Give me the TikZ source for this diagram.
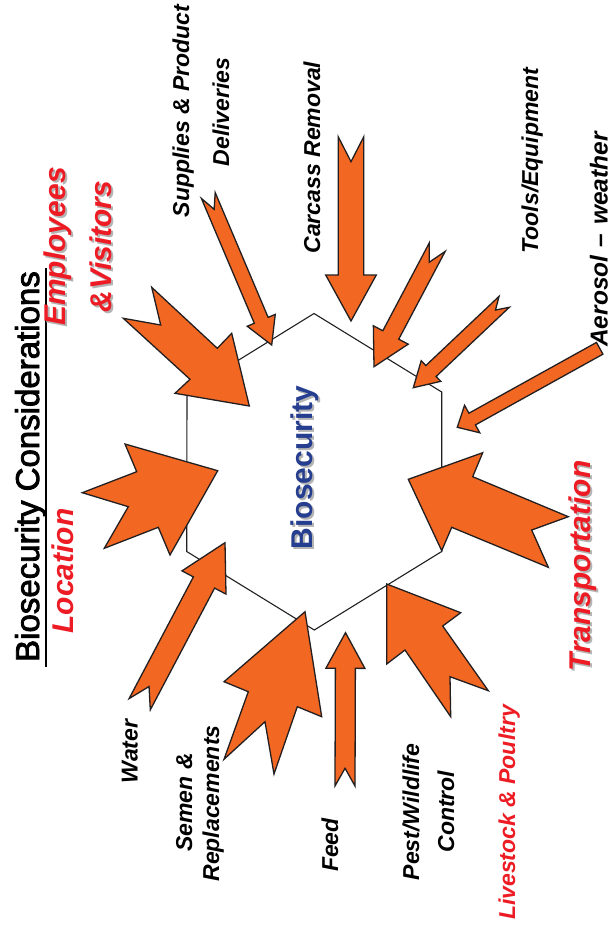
\documentclass[tikz,border=0pt]{standalone}
\usepackage{fontspec}
\setmainfont{Liberation Sans}
\newfontfamily\titlefont[FakeBold=2.5]{Liberation Sans}
\usetikzlibrary{calc}
\definecolor{arrorange}{RGB}{242,103,34}
\definecolor{arrline}{RGB}{35,31,32}
\definecolor{labred}{RGB}{237,28,36}
\definecolor{labblue}{RGB}{38,62,143}
\definecolor{shadowgray}{RGB}{180,180,180}
% thin symmetric block arrow: #1 tail centre, #2 tip, #3 shaft half width,
% #4 head half width, #5 head length, #6 tail notch depth
\newcommand\blockarrow[6]{%
  \coordinate (P) at ($(#2)!#5!(#1)$);
  \filldraw[blockarr] ($(#1)!#3!90:(#2)$) -- ($(#1)!#6!(#2)$) -- ($(#1)!#3!-90:(#2)$)
    -- ($(P)!#3!-90:(#2)$) -- ($(P)!#4!-90:(#2)$) -- (#2)
    -- ($(P)!#4!90:(#2)$) -- ($(P)!#3!90:(#2)$) -- cycle;
}
\begin{document}
\begin{tikzpicture}[x=1pt,y=-1pt,
  blockarr/.style={fill=arrorange,draw=arrline,line width=1.3pt,line join=miter},
  hexline/.style={draw=arrline,line width=1.1pt},
  lab/.style={rotate=90,anchor=base,inner sep=0pt,
    font=\fontsize{23}{23}\selectfont\bfseries\itshape,text=black},
  redlab/.style={lab,text=labred},
  biglab/.style={rotate=90,anchor=base,inner sep=0pt,
    font=\fontsize{30}{30}\selectfont\bfseries\itshape,text=labred},
  shadowlab/.style={text=shadowgray},
  titlelab/.style={rotate=90,anchor=base,inner sep=0pt,
    font=\fontsize{33}{33}\selectfont\titlefont},
  centrelab/.style={rotate=90,anchor=base,inner sep=0pt,
    font=\fontsize{30}{30}\selectfont\bfseries,text=labblue}]
\useasboundingbox (0,0) rectangle (611,937);

% hexagon
\coordinate (h1) at (314,313.5);
\coordinate (h2) at (441.7,392);
\coordinate (h3) at (441.7,551.5);
\coordinate (h4) at (314.3,630);
\coordinate (h5) at (186.7,551.5);
\coordinate (h6) at (187,392);
\draw[hexline] (h1) -- (h2) -- (h3) -- (h4) -- (h5) -- (h6) -- cycle;

% big chevron arrows
\filldraw[blockarr] (151.7,287.3) -- (217.3,348.3) -- (231.7,333.3) -- (249.3,406)
  -- (175,393.3) -- (190,379.3) -- (123.3,318.3) -- (160.7,325) -- cycle; % employees
\filldraw[blockarr] (217.7,470.7) -- (125,444) -- (136.7,471.7) -- (82.3,492.7)
  -- (128.3,506.7) -- (104.3,548.3) -- (158.3,527.3) -- (170,555) -- cycle; % location
\filldraw[blockarr] (408.3,479.3) -- (482.7,452.7) -- (472.7,476.7) -- (568.3,516.7)
  -- (531.7,530) -- (548.3,567.3) -- (451.7,527.3) -- (441.7,550.7) -- cycle; % transportation
\filldraw[blockarr] (386.7,584) -- (460.7,612.7) -- (442.7,626) -- (488.3,690.7)
  -- (450,676.7) -- (450.7,716.7) -- (405,650) -- (386.7,664) -- cycle; % pest
\filldraw[blockarr] (305,611.7) -- (321.7,716.7) -- (297.3,706.7) -- (274,774)
  -- (265,721.7) -- (224,759.3) -- (248.3,691.7) -- (224,681.7) -- cycle; % semen

% thin arrows
\coordinate (sup-t) at (208.3,195.5);   \coordinate (sup-h) at (271.7,345);
\coordinate (car-t) at (351,136.7);     \coordinate (car-h) at (351,321);
\coordinate (too1-t) at (437.2,247.2);  \coordinate (too1-h) at (374,366.7);
\coordinate (too2-t) at (504.2,301.8);  \coordinate (too2-h) at (413.3,387.7);
\coordinate (aer-t) at (599.7,348.3);   \coordinate (aer-h) at (457.3,427.3);
\coordinate (fee-t) at (345,786);       \coordinate (fee-h) at (345.5,632.7);
\coordinate (wat-t) at (139.7,704.2);   \coordinate (wat-h) at (225,542.7);
\blockarrow{sup-t}{sup-h}{7.5pt}{15.2pt}{26.8pt}{15pt}
\blockarrow{car-t}{car-h}{12.8pt}{25.3pt}{46pt}{25pt}
\blockarrow{too1-t}{too1-h}{9pt}{19.7pt}{35.9pt}{17pt}
\blockarrow{too2-t}{too2-h}{7.5pt}{14.2pt}{24.3pt}{12pt}
\blockarrow{aer-t}{aer-h}{6.7pt}{15.7pt}{17pt}{0pt}
\blockarrow{fee-t}{fee-h}{10pt}{19.5pt}{35.6pt}{17.7pt}
\blockarrow{wat-t}{wat-h}{12pt}{24.9pt}{45pt}{20pt}

% title
\node[titlelab] (title) at (39,466.5) {Biosecurity Considerations};
\draw[line width=2pt] (46,268) -- (46,667);

% centre
\node[centrelab,shadowlab] (bio-sh) at (314.5,469.5) {Biosecurity};
\node[centrelab] (bio) at (312,467.5) {Biosecurity};

% big red labels
\node[biglab] (loc) at (73,571) {Location};
\node[biglab,shadowlab] (emp-sh) at (67,248.5) {Employees};
\node[biglab] (emp) at (65,246.5) {Employees};
\node[biglab,shadowlab] (vis-sh) at (113,248.5) {\&\kern1pt Visitors};
\node[biglab] (vis) at (111,246.5) {\&\kern1pt Visitors};
\node[biglab,shadowlab] (tra-sh) at (592,568) {Transportation};
\node[biglab] (tra) at (590,566) {Transportation};

% small labels
\node[lab] (sup1) at (189,111) {Supplies \& Product};
\node[lab] (sup2) at (229,112) {Deliveries};
\node[lab] (car) at (320,157.5) {Carcass Removal};
\node[lab] (too) at (538,160.5) {Tools/Equipment};
\node[lab,font=\fontsize{24.5}{24.5}\selectfont\bfseries\itshape] (aer) at (607.5,239.5)
  {Aerosol\hspace{0.35em}–\hspace{0.35em}weather};
\node[lab] (wat) at (137.5,751.5) {Water};
\node[lab] (sem1) at (192,802.5) {Semen \&};
\node[lab] (sem2) at (219,803.5) {Replacements};
\node[lab] (fee) at (338,845) {Feed};
\node[lab] (pes1) at (419,812) {Pest/Wildlife};
\node[lab] (pes2) at (454,811.5) {Control};
\node[redlab] (liv) at (515,812.5) {Livestock \& Poultry};
\end{tikzpicture}
\end{document}
